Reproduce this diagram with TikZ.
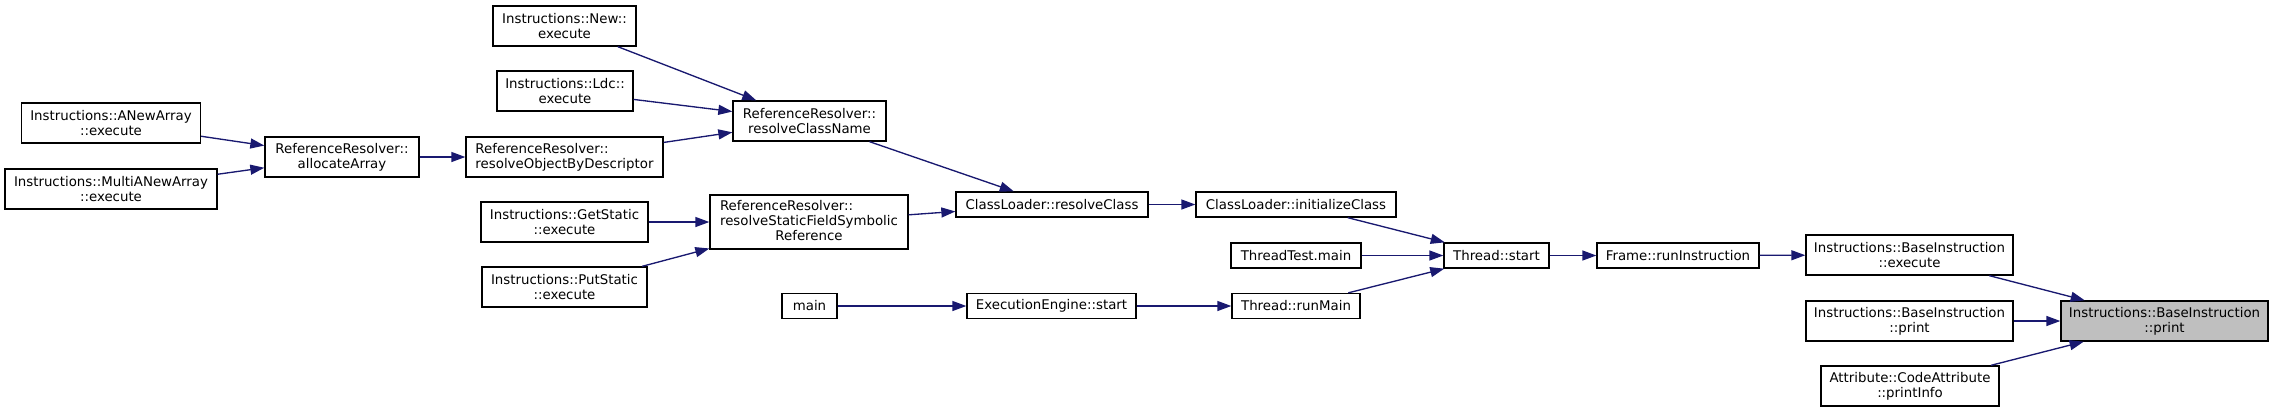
\documentclass[tikz,border=0pt]{standalone}
\usepackage{fontspec}
\setmainfont{DejaVu Sans}
\usetikzlibrary{arrows.meta}
\definecolor{edgeblue}{HTML}{191970}
\definecolor{rootgray}{HTML}{BFBFBF}
\begin{document}
\begin{tikzpicture}[x=0.75pt,y=-0.75pt,
  fn/.style 2 args={draw=black, line width=1pt, fill=white, inner sep=0pt,
    minimum width=#1*0.75pt, minimum height=#2*0.75pt, align=center,
    font=\fontsize{10pt}{11.25pt}\selectfont},
  rootnode/.style={fill=rootgray},
  leftal/.style={align=left},
  call/.style={draw=edgeblue, line width=1pt,
    -{Triangle[length=10.5pt,width=7.5pt]}, fill=edgeblue}
]
\useasboundingbox (0,0) rectangle (2273,412);

\node[fn={179}{40}] (anew) at (111,123) {Instructions::ANewArray\\::execute};
\node[fn={212}{40}] (multi) at (111,189) {Instructions::MultiANewArray\\::execute};
\node[fn={154}{40}] (alloc) at (342,157) {ReferenceResolver::\\allocateArray};
\node[fn={197}{40},leftal] (robd) at (564.5,157) {ReferenceResolver::\\resolveObjectByDescriptor};
\node[fn={143}{40}] (new) at (564.5,26) {Instructions::New::\\execute};
\node[fn={136}{40}] (ldc) at (565,91) {Instructions::Ldc::\\execute};
\node[fn={167}{40}] (getst) at (564.5,222) {Instructions::GetStatic\\::execute};
\node[fn={165}{40}] (putst) at (564.5,287) {Instructions::PutStatic\\::execute};
\node[fn={153}{40}] (rcn) at (809.5,121) {ReferenceResolver::\\resolveClassName};
\node[fn={198}{54}] (rsfsr) at (809,222) {\begin{tabular}{@{}l@{}}ReferenceResolver::\\resolveStaticFieldSymbolic\\\multicolumn{1}{@{}c@{}}{Reference}\end{tabular}};
\node[fn={55}{25}] (mainn) at (809.5,306) {main};
\node[fn={192}{25}] (rclass) at (1052,204.5) {ClassLoader::resolveClass};
\node[fn={200}{25}] (initc) at (1296,204.5) {ClassLoader::initializeClass};
\node[fn={130}{25}] (ttmain) at (1296,255.5) {ThreadTest.main};
\node[fn={169}{25}] (eestart) at (1051.5,306) {ExecutionEngine::start};
\node[fn={128}{25}] (runmain) at (1296,306) {Thread::runMain};
\node[fn={105}{25}] (tstart) at (1496.5,255.5) {Thread::start};
\node[fn={162}{25}] (frame) at (1678,255.5) {Frame::runInstruction};
\node[fn={207}{40}] (biexec) at (1909.5,255) {Instructions::BaseInstruction\\::execute};
\node[fn={207}{40}] (biprint) at (1909.5,321) {Instructions::BaseInstruction\\::print};
\node[fn={178}{40}] (printinfo) at (1910,386) {Attribute::CodeAttribute\\::printInfo};
\node[fn={207}{40},rootnode] (root) at (2164.5,321) {Instructions::BaseInstruction\\::print};

\draw[call] (anew) -- (alloc);
\draw[call] (multi) -- (alloc);
\draw[call] (alloc) -- (robd);
\draw[call] (new) -- (rcn);
\draw[call] (ldc) -- (rcn);
\draw[call] (robd) -- (rcn);
\draw[call] (getst) -- (rsfsr);
\draw[call] (putst) -- (rsfsr);
\draw[call] (rcn) -- (rclass);
\draw[call] (rsfsr) -- (rclass);
\draw[call] (rclass) -- (initc);
\draw[call] (initc) -- (tstart);
\draw[call] (ttmain) -- (tstart);
\draw[call] (runmain) -- (tstart);
\draw[call] (mainn) -- (eestart);
\draw[call] (eestart) -- (runmain);
\draw[call] (tstart) -- (frame);
\draw[call] (frame) -- (biexec);
\draw[call] (biexec) -- (root);
\draw[call] (biprint) -- (root);
\draw[call] (printinfo) -- (root);
\end{tikzpicture}
\end{document}
